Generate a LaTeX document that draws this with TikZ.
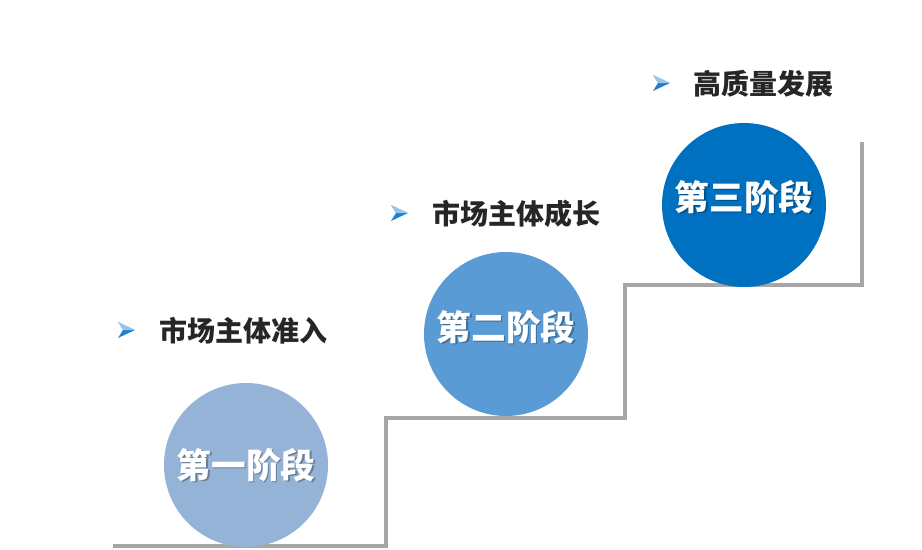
\documentclass[tikz,border=0pt]{standalone}
\usepackage{fontspec}
\newfontfamily\cjk{Noto Sans CJK SC}
\definecolor{stairgray}{HTML}{A6A6A6}
\definecolor{shadowgray}{HTML}{DDDDDD}
\definecolor{cone}{HTML}{95B3D7}
\definecolor{ctwo}{HTML}{5B9BD5}
\definecolor{cthree}{HTML}{0070C0}
\definecolor{labeltext}{HTML}{262626}
\definecolor{bulletblue}{HTML}{1F7FD0}
\begin{document}
\begin{tikzpicture}[x=0.75pt,y=-0.75pt,
  stage/.style={circle,minimum size=164*0.75pt,inner sep=0pt},
  stagetext/.style={font=\cjk\bfseries\fontsize{26}{29}\selectfont,text=white},
  stageshadow/.style={font=\cjk\bfseries\fontsize{26}{29}\selectfont,text=black,opacity=0.3},
  labelnode/.style={font=\cjk\bfseries\fontsize{21}{25}\selectfont,text=labeltext,anchor=west,inner sep=0pt},
  stairline/.style={draw=stairgray,line width=2.4pt,line join=miter}]
\useasboundingbox (0,0) rectangle (922,550);
% stair shadow
\coordinate (s0) at (113,546);
\coordinate (s1) at (386,546);
\coordinate (s2) at (386,418);
\coordinate (s3) at (625,418);
\coordinate (s4) at (625,285);
\coordinate (s5) at (862,285);
\coordinate (s6) at (862,142);
\draw[draw=shadowgray,line width=2.4pt,shift={(2,2)}] (s0) -- (s1) -- (s2) -- (s3) -- (s4) -- (s5) -- (s6);
\draw[stairline] (s0) -- (s1) -- (s2) -- (s3) -- (s4) -- (s5) -- (s6);
% circles
\node[stage,fill=cone] (c1) at (246,465) {};
\node[stage,fill=ctwo] (c2) at (506,334) {};
\node[stage,fill=cthree] (c3) at (744,205) {};
\node[stageshadow] at (247.5,466.5) {第一阶段};
\node[stagetext] (t1) at (246,465) {第一阶段};
\node[stageshadow] at (507.5,328.5) {第二阶段};
\node[stagetext] (t2) at (506,327) {第二阶段};
\node[stageshadow] at (745.5,198.5) {第三阶段};
\node[stagetext] (t3) at (744,197) {第三阶段};
% bullets and labels
\foreach \bx/\by/\nm in {118/330/b1, 391/213/b2, 653/83/b3}{
  \fill[bulletblue] (\bx,\by-8) -- (\bx+17,\by) -- (\bx,\by+8) -- (\bx+5,\by) -- cycle;
  \fill[white,opacity=0.55] (\bx,\by-8) -- (\bx+17,\by) -- (\bx+5,\by) -- cycle;
  \coordinate (\nm) at (\bx+17,\by);
}
\node[labelnode] (l1) at (159,331) {市场主体准入};
\node[labelnode] (l2) at (432,214) {市场主体成长};
\node[labelnode] (l3) at (693,84) {高质量发展};
\end{tikzpicture}
\end{document}
